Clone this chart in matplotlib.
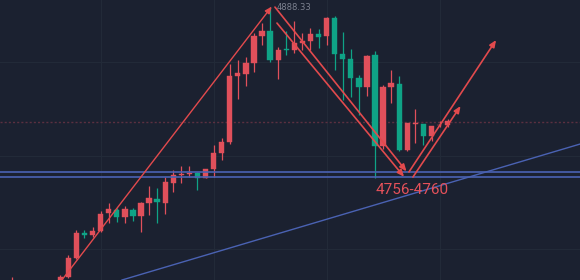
import matplotlib
matplotlib.use("Agg")
import matplotlib.pyplot as plt
import numpy as np

# ---- data ----
idx = [-6] + list(range(0, 49))
opens = [4665, 4668, 4678.3, 4693.5, 4713.0, 4710.9, 4714.5, 4727.9, 4730.5, 4725.1, 4730.5,
         4725.9, 4735.9, 4739.0, 4735.9, 4751.5, 4757.4, 4758.2, 4759.5, 4755.6, 4762.1,
         4774.5, 4783.5, 4834.5, 4836.0, 4844.8, 4865.8, 4869.7, 4846.9, 4855.4, 4854.7,
         4860.4, 4861.9, 4867.1, 4865.5, 4879.5, 4851.6, 4847.7, 4833.2, 4825.7, 4850.5,
         4780.2, 4826.2, 4828.0, 4777.1, 4797.2, 4797.0, 4787.9, 4796.2, 4796.2]
closes = [4672, 4678.8, 4693.5, 4713.0, 4710.9, 4714.2, 4727.7, 4731.0, 4725.1, 4731.3, 4725.9,
          4735.9, 4739.8, 4736.7, 4752.2, 4757.7, 4758.4, 4759.5, 4755.6, 4762.1, 4775.0,
          4783.3, 4834.5, 4836.6, 4844.8, 4865.5, 4869.7, 4846.9, 4854.7, 4854.4, 4860.4,
          4861.9, 4867.1, 4865.0, 4879.5, 4851.6, 4847.7, 4833.2, 4825.7, 4850.3, 4780.2,
          4826.2, 4828.8, 4777.1, 4797.8, 4797.8, 4787.9, 4795.7, 4796.7, 4799.6]
highs = [4678.3, 4679.8, 4695.3, 4715.0, 4715.0, 4717.6, 4729.7, 4735.7, 4732.1, 4733.6, 4732.1,
         4736.7, 4749.1, 4747.6, 4756.1, 4761.6, 4764.7, 4764.9, 4759.7, 4762.6, 4780.9,
         4786.1, 4843.8, 4846.9, 4849.0, 4867.6, 4875.4, 4888.33, 4857.3, 4869.7, 4877.4,
         4867.6, 4871.5, 4870.7, 4880.0, 4881.3, 4868.4, 4855.2, 4835.3, 4850.8, 4854.2,
         4827.5, 4839.2, 4834.5, 4797.8, 4808.6, 4797.2, 4795.7, 4799.8, 4801.4]
lows = [4660, 4665, 4677.5, 4692.7, 4708.5, 4709.8, 4713.7, 4720.4, 4721.2, 4720.4, 4722.0,
        4713.4, 4726.6, 4720.4, 4727.4, 4744.5, 4751.7, 4755.9, 4746.0, 4755.4, 4756.4,
        4769.3, 4781.7, 4816.4, 4826.7, 4837.9, 4858.6, 4845.1, 4831.9, 4850.8, 4852.1,
        4854.7, 4854.7, 4856.0, 4858.6, 4839.2, 4815.9, 4818.5, 4804.2, 4819.0, 4755.1,
        4777.6, 4813.3, 4776.6, 4776.6, 4782.2, 4780.9, 4784.3, 4794.7, 4794.7]

high_label = "4888.33"
zone_label = "4756-4760"
zone_levels = [4760.0, 4756.1]
last_price = 4798.8

# trend line (blue) anchors: (index, price)
trend_x = [7.65, 64.4]
trend_y = [4676.2, 4781.7]

# drawn arrows (index, price) pairs
arrows = [
    ((0.2, 4676.2), (26.2, 4888.4)),
    ((26.6, 4888.0), (42.9, 4760.5)),
    ((26.85, 4875.6), (42.6, 4756.3)),
    ((43.2, 4760.0), (54.0, 4862.4)),
    ((43.7, 4756.1), (49.6, 4811.2)),
]

grid_x = [5, 19, 33, 47]
grid_y = [4845.4, 4772.8, 4700.2]

# ---- style ----
BG = "#1b2130"
RED = "#e0505b"
GREEN = "#0fa386"
ARROW = "#e24a4d"

fig = plt.figure(figsize=(5.8, 2.8), dpi=100, facecolor=BG)
ax = fig.add_axes([0, 0, 1, 1])
ax.set_facecolor(BG)
ax.set_xlim(-7.47, 64.4)
ax.set_ylim(4676.2, 4893.5)
for s in ax.spines.values():
    s.set_visible(False)
ax.set_xticks([])
ax.set_yticks([])

for gx in grid_x:
    ax.axvline(gx, color="#222a38", lw=0.8, zorder=0)
for gy in grid_y:
    ax.axhline(gy, color="#222a38", lw=0.8, zorder=0)

ax.axhline(last_price, color="#5b3040", lw=1.0, ls=(0, (1.5, 1.5)), zorder=1)

o = np.array(opens); c = np.array(closes); h = np.array(highs); l = np.array(lows)
x = np.array(idx)
up = c >= o
cols = np.where(up, RED, GREEN)
ax.vlines(x, l, h, colors=cols, lw=0.9, zorder=2)
bottoms = np.minimum(o, c)
heights = np.maximum(np.abs(c - o), 0.5)
ax.bar(x, heights, bottom=bottoms, width=0.66, color=cols, edgecolor=cols, lw=0.3, zorder=3)

for lv in zone_levels:
    ax.axhline(lv, color="#4a62b3", lw=1.2, zorder=4)
ax.plot(trend_x, trend_y, color="#4a62b3", lw=1.0, zorder=4)

for i, (p0, p1) in enumerate(arrows):
    lw = 1.0 if i == 0 else 1.2
    ax.annotate("", xy=p1, xytext=p0,
                arrowprops=dict(arrowstyle="-|>,head_length=0.4,head_width=0.17",
                                color=ARROW, lw=lw, shrinkA=0, shrinkB=0),
                zorder=5)

ax.text(26.8, 4887.6, high_label, color="#7d8290", fontsize=6, va="center", ha="left",
        family="DejaVu Sans", zorder=6)
ax.text(39.1, 4746.0, zone_label, color="#e5515a", fontsize=11, va="center", ha="left",
        family="Roboto", zorder=6)

fig.savefig("out.png", dpi=100, facecolor=BG)
